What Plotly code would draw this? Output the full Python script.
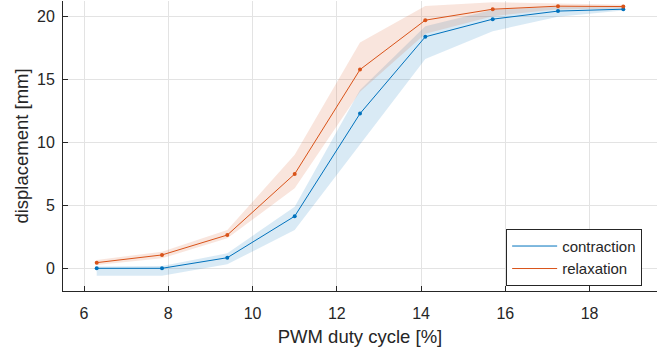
import plotly.graph_objects as go

pwm = [6.3, 7.85, 9.4, 11.0, 12.55, 14.1, 15.7, 17.25, 18.8]
contraction = [0.0, 0.0, 0.84, 4.13, 12.27, 18.36, 19.76, 20.4, 20.55]
contraction_upper = [0.15, 0.18, 1.19, 4.89, 14.15, 19.2, 20.5, 20.75, 20.7]
contraction_lower = [-0.6, -0.6, 0.32, 3.04, 9.85, 16.6, 18.8, 19.95, 20.45]
relaxation = [0.45, 1.06, 2.64, 7.48, 15.76, 19.68, 20.55, 20.79, 20.76]
relaxation_upper = [0.66, 1.32, 3.04, 9.0, 17.9, 20.8, 21.1, 21.0, 20.9]
relaxation_lower = [0.26, 0.79, 2.38, 6.35, 14.0, 18.6, 20.0, 20.55, 20.6]

x_ticks = [6, 8, 10, 12, 14, 16, 18]
y_ticks = [0, 5, 10, 15, 20]

BLUE = "#0072BD"
ORANGE = "#D95319"
BLUE_FILL = "rgba(0,114,189,0.15)"
ORANGE_FILL = "rgba(217,83,25,0.15)"
FONT = "Liberation Sans, Arial, Helvetica, sans-serif"
TXT = "#262626"

fig = go.Figure()

def add_series(name, y, up, lo, color, fill):
    fig.add_trace(go.Scatter(
        x=pwm + pwm[::-1], y=up + lo[::-1], fill="toself", fillcolor=fill,
        line=dict(width=0), mode="lines", showlegend=False, hoverinfo="skip"))
    fig.add_trace(go.Scatter(
        x=pwm, y=y, mode="lines", name=name, line=dict(color=color, width=1)))
    fig.add_trace(go.Scatter(
        x=pwm, y=y, mode="markers", showlegend=False,
        marker=dict(color=color, size=4)))

add_series("contraction", contraction, contraction_upper, contraction_lower, BLUE, BLUE_FILL)
add_series("relaxation", relaxation, relaxation_upper, relaxation_lower, ORANGE, ORANGE_FILL)

axis_common = dict(
    showline=True, linecolor=TXT, linewidth=1, mirror=False,
    ticks="inside", ticklen=5, tickcolor=TXT, tickwidth=1,
    showgrid=True, gridcolor="#e3e3e3", gridwidth=1, zeroline=False,
    tickfont=dict(family=FONT, size=16, color=TXT),
)

fig.update_layout(
    width=662, height=349,
    margin=dict(l=63, r=5, t=1, b=58),
    paper_bgcolor="white", plot_bgcolor="white",
    xaxis=dict(range=[5.5, 19.6], tickvals=x_ticks,
               title=dict(text="PWM duty cycle [%]", font=dict(family=FONT, size=18.5, color=TXT), standoff=8),
               ticklabelstandoff=8, **axis_common),
    yaxis=dict(range=[-1.8, 21.2], tickvals=y_ticks,
               title=dict(text="displacement [mm]", font=dict(family=FONT, size=18.5, color=TXT), standoff=3),
               ticklabelstandoff=4, **axis_common),
    legend=dict(x=0.975, y=0.018, xanchor="right", yanchor="bottom",
                bgcolor="white", bordercolor=TXT, borderwidth=1,
                font=dict(family=FONT, size=15, color=TXT),
                tracegroupgap=0, itemwidth=45),
    showlegend=True,
)

fig.write_html("out.html")
